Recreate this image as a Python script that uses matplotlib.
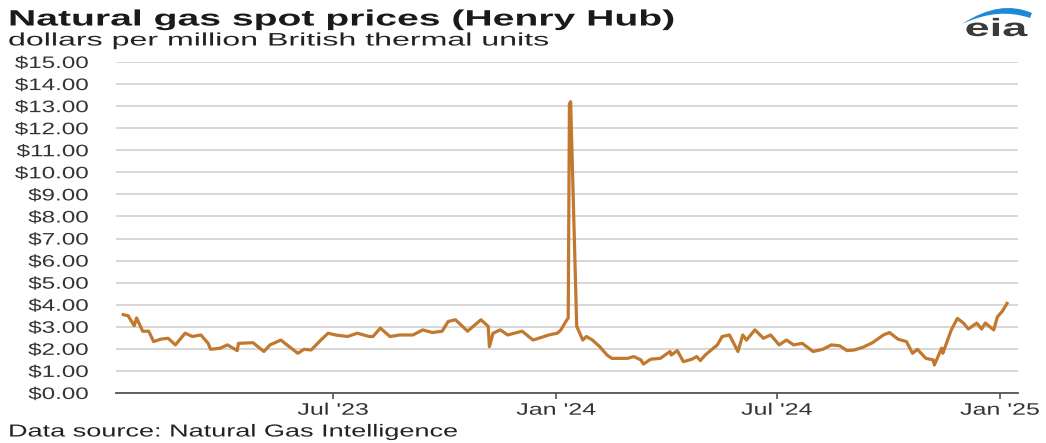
import numpy as np
import pandas as pd
import matplotlib
matplotlib.use('Agg')
import matplotlib.pyplot as plt
from matplotlib.path import Path
from matplotlib.patches import PathPatch
from matplotlib.patheffects import AbstractPathEffect
from matplotlib.transforms import Affine2D

plt.rcParams['font.family'] = ['Liberation Sans', 'DejaVu Sans']

# preços spot Henry Hub (US$/MMBtu)
datas = [
    '2023-01-09', '2023-01-13', '2023-01-18', '2023-01-20', '2023-01-25', '2023-01-30',
    '2023-02-03', '2023-02-09', '2023-02-15', '2023-02-21', '2023-03-01', '2023-03-07',
    '2023-03-14', '2023-03-20', '2023-03-22', '2023-03-30', '2023-04-05', '2023-04-13',
    '2023-04-14', '2023-04-26', '2023-05-05', '2023-05-10', '2023-05-19', '2023-05-24',
    '2023-06-02', '2023-06-07', '2023-06-13', '2023-06-21', '2023-06-27', '2023-07-03',
    '2023-07-13', '2023-07-21', '2023-07-31', '2023-08-03', '2023-08-09', '2023-08-17',
    '2023-08-25', '2023-09-05', '2023-09-13', '2023-09-21', '2023-09-29', '2023-10-04',
    '2023-10-10', '2023-10-20', '2023-10-31', '2023-11-06', '2023-11-07', '2023-11-10',
    '2023-11-16', '2023-11-22', '2023-12-04', '2023-12-13', '2023-12-26', '2024-01-02',
    '2024-01-05', '2024-01-09', '2024-01-11', '2024-01-12', '2024-01-13', '2024-01-18',
    '2024-01-23', '2024-01-26', '2024-01-31', '2024-02-06', '2024-02-12', '2024-02-16',
    '2024-02-29', '2024-03-05', '2024-03-11', '2024-03-13', '2024-03-19', '2024-03-27',
    '2024-04-04', '2024-04-05', '2024-04-10', '2024-04-15', '2024-04-22', '2024-04-26',
    '2024-04-29', '2024-05-03', '2024-05-13', '2024-05-17', '2024-05-23', '2024-05-30',
    '2024-06-03', '2024-06-06', '2024-06-13', '2024-06-20', '2024-06-26', '2024-07-03',
    '2024-07-09', '2024-07-15', '2024-07-22', '2024-07-31', '2024-08-08', '2024-08-15',
    '2024-08-22', '2024-08-28', '2024-09-03', '2024-09-10', '2024-09-18', '2024-09-27',
    '2024-10-02', '2024-10-09', '2024-10-16', '2024-10-21', '2024-10-25', '2024-11-01',
    '2024-11-07', '2024-11-08', '2024-11-14', '2024-11-15', '2024-11-21', '2024-11-22',
    '2024-11-27', '2024-12-02', '2024-12-06', '2024-12-13', '2024-12-17', '2024-12-20',
    '2024-12-27', '2024-12-30', '2025-01-03', '2025-01-07',
]
precos = [
    3.55, 3.50, 3.05, 3.40, 2.80, 2.80,
    2.33, 2.44, 2.48, 2.18, 2.71, 2.56,
    2.63, 2.25, 1.98, 2.03, 2.18, 1.92,
    2.25, 2.28, 1.88, 2.18, 2.40, 2.18,
    1.80, 1.98, 1.95, 2.40, 2.71, 2.63,
    2.56, 2.71, 2.56, 2.56, 2.94, 2.56,
    2.63, 2.63, 2.86, 2.74, 2.80, 3.24,
    3.32, 2.80, 3.32, 3.02, 2.10, 2.71,
    2.86, 2.63, 2.80, 2.40, 2.63, 2.71,
    2.86, 3.24, 3.40, 13.10, 13.20, 3.02,
    2.40, 2.56, 2.40, 2.10, 1.72, 1.57,
    1.57, 1.65, 1.50, 1.31, 1.53, 1.57,
    1.88, 1.72, 1.92, 1.42, 1.53, 1.65,
    1.47, 1.72, 2.18, 2.56, 2.63, 1.88,
    2.63, 2.40, 2.86, 2.48, 2.63, 2.18,
    2.40, 2.18, 2.25, 1.88, 1.98, 2.18,
    2.14, 1.92, 1.95, 2.07, 2.28, 2.63,
    2.74, 2.44, 2.33, 1.80, 1.98, 1.57,
    1.50, 1.27, 2.03, 1.80, 2.71, 2.86,
    3.38, 3.17, 2.90, 3.17, 2.90, 3.17,
    2.86, 3.45, 3.70, 4.06,
]

ticks_x = ['2023-07-01', '2024-01-01', '2024-07-01', '2025-01-01']
rotulos_x = ["Jul '23", "Jan '24", "Jul '24", "Jan '25"]
ticks_y = list(range(0, 16))


class Esticar(AbstractPathEffect):
    """Alarga o texto na horizontal (a imagem original é esticada)."""

    def __init__(self, sx, ancora=0.0):
        super().__init__()
        self.sx = sx
        self.ancora = ancora

    def draw_path(self, renderer, gc, tpath, affine, rgbFace=None):
        x0 = tpath.get_extents().x1 * self.ancora
        esc = Affine2D().translate(-x0, 0).scale(self.sx, 1).translate(x0, 0)
        renderer.draw_path(gc, tpath, esc + affine, rgbFace)


W, H = 1046, 443
fig = plt.figure(figsize=(W / 100, H / 100), dpi=100)
ax = fig.add_axes([116 / W, 1 - 393 / H, (1018 - 116) / W, (393 - 62) / H])

ax.plot(pd.to_datetime(datas), precos, color='#c1782f', lw=2.3, solid_joinstyle='round')

ax.set_xlim(pd.Timestamp('2023-01-03'), pd.Timestamp('2025-01-16'))
ax.set_ylim(0, 15)
ax.set_yticks(ticks_y)
ax.set_yticklabels([f'${v:.2f}' for v in ticks_y])
ax.set_xticks(pd.to_datetime(ticks_x))
ax.set_xticklabels(rotulos_x)

ax.grid(axis='y', color='#d4d4d4', lw=1.3)
ax.set_axisbelow(True)
for lado in ['top', 'right', 'left']:
    ax.spines[lado].set_visible(False)
ax.spines['bottom'].set_color('#555555')
ax.spines['bottom'].set_linewidth(1.3)

ax.tick_params(axis='y', length=0, pad=20, labelsize=12, labelcolor='#333333')
ax.tick_params(axis='x', length=4, width=1.2, color='#555555', pad=3,
               labelsize=12, labelcolor='#333333')
for t in ax.get_yticklabels():
    t.set_path_effects([Esticar(1.45, 1.0)])
for t in ax.get_xticklabels():
    t.set_path_effects([Esticar(1.5, 0.5)])

titulo = fig.text(8 / W, 1 - 20 / H, 'Natural gas spot prices (Henry Hub)', fontsize=16,
                  fontweight='bold', color='#1a1a1a', va='center', ha='left')
titulo.set_path_effects([Esticar(1.76)])
sub = fig.text(8 / W, 1 - 41 / H, 'dollars per million British thermal units', fontsize=13,
               color='#222222', va='center', ha='left')
sub.set_path_effects([Esticar(1.78)])
fonte = fig.text(8 / W, 1 - 432 / H, 'Data source: Natural Gas Intelligence', fontsize=12.5,
                 color='#222222', va='center', ha='left')
fonte.set_path_effects([Esticar(1.56)])

# logo eia
logo = fig.text(996 / W, 1 - 29 / H, 'eia', fontsize=18, fontweight='bold', color='#3a3a3a',
                va='center', ha='center')
logo.set_path_effects([Esticar(1.8, 0.5)])
pontos = [(962, 24), (1000, -1), (1032, 13), (1030, 18), (998, 7), (962, 24)]
codigos = [Path.MOVETO, Path.CURVE3, Path.CURVE3, Path.LINETO, Path.CURVE3, Path.CURVE3]
arco = Path([(x / W, 1 - y / H) for x, y in pontos], codigos)
fig.patches.append(PathPatch(arco, transform=fig.transFigure, facecolor='#1c8ad6',
                             edgecolor='none'))

fig.savefig('out.png', dpi=100)
